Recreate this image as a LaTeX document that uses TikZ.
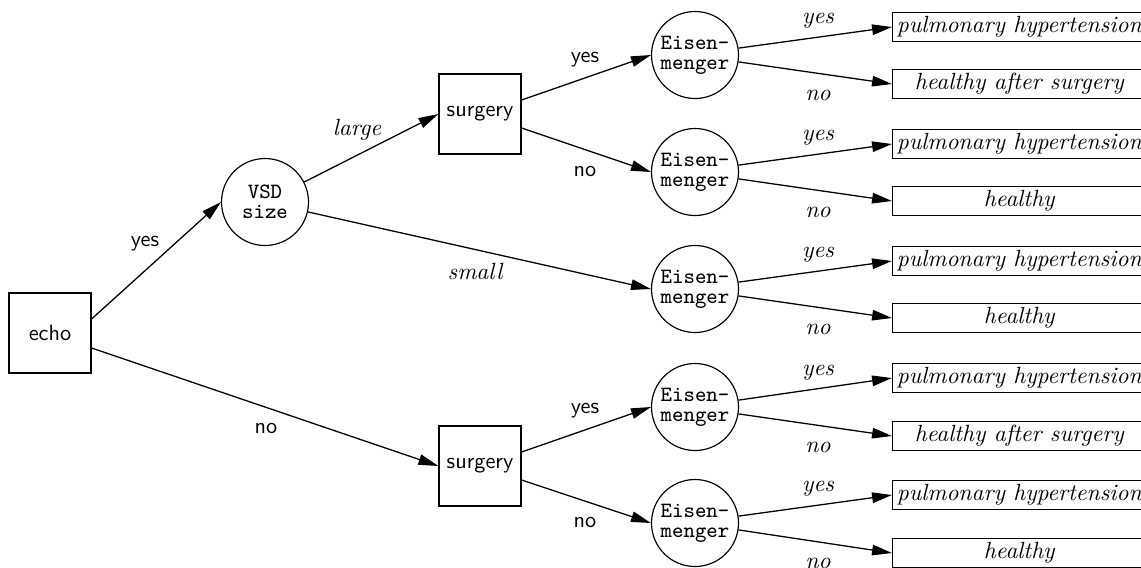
\documentclass[tikz,border=0pt]{standalone}
\usetikzlibrary{arrows.meta}
\begin{document}
\begin{tikzpicture}[x=0.015cm,y=-0.015cm,
  every node/.style={inner sep=0pt},
  decision/.style={draw, line width=0.5pt, minimum width=1.23cm, minimum height=1.2cm,
    font=\sffamily\fontsize{9.5}{11}\selectfont},
  chance/.style={draw, circle, line width=0.5pt, minimum size=1.305cm, align=center,
    font=\ttfamily\fontsize{9.3}{8.6}\selectfont},
  outcome/.style={draw, line width=0.5pt, anchor=west, minimum width=3.8cm,
    minimum height=0.435cm, font=\itshape},
  edge/.style={line width=0.55pt, -{Triangle[length=8.5pt,width=4.5pt]}},
  slab/.style={font=\sffamily\fontsize{9.5}{11}\selectfont},
  ilab/.style={font=\itshape},
]
\clip (0,0) rectangle (1141,567);

% decision and chance nodes
\node[decision] (echo) at (50,333) {echo};
\node[chance]   (vsd)  at (265,202) {VSD\\size};
\node[decision] (surgA) at (480,114) {surgery};
\node[decision] (surgB) at (480,466) {surgery};
\node[chance] (e1) at (695,55)  {Eisen-\\menger};
\node[chance] (e2) at (695,172) {Eisen-\\menger};
\node[chance] (e3) at (695,289) {Eisen-\\menger};
\node[chance] (e4) at (695,407) {Eisen-\\menger};
\node[chance] (e5) at (695,523) {Eisen-\\menger};

% outcomes
\node[outcome] (o1a) at (892,27)  {pulmonary hypertension};
\node[outcome] (o1b) at (892,84)  {healthy after surgery};
\node[outcome] (o2a) at (892,144) {pulmonary hypertension};
\node[outcome] (o2b) at (892,201) {healthy};
\node[outcome] (o3a) at (892,261) {pulmonary hypertension};
\node[outcome] (o3b) at (892,318) {healthy};
\node[outcome] (o4a) at (892,378) {pulmonary hypertension};
\node[outcome] (o4b) at (892,436) {healthy after surgery};
\node[outcome] (o5a) at (892,495) {pulmonary hypertension};
\node[outcome] (o5b) at (892,553) {healthy};

% connectors
\draw[edge] ([yshift=0.21cm]echo.east) -- (vsd.west);
\draw[edge] ([yshift=-0.225cm]echo.east) -- (surgB.west);
\draw[edge] (vsd.27) -- (surgA.west);
\draw[edge] (vsd.-13) -- (e3.west);
\draw[edge] ([yshift=0.21cm]surgA.east) -- (e1.west);
\draw[edge] ([yshift=-0.21cm]surgA.east) -- (e2.west);
\draw[edge] ([yshift=0.21cm]surgB.east) -- (e4.west);
\draw[edge] ([yshift=-0.21cm]surgB.east) -- (e5.west);
\foreach \e/\o in {e1/o1,e2/o2,e3/o3,e4/o4,e5/o5}{
  \draw[edge] (\e.9) -- (\o a.west);
  \draw[edge] (\e.-9) -- (\o b.west);
}

% edge labels
\node[slab] (lyes) at (145,244) {yes};
\node[slab] (lno)  at (266,428) {no};
\node[ilab] (llarge) at (357,130) {large};
\node[ilab] (lsmall) at (475,271) {small};
\node[slab] (la1) at (585,60)  {yes};
\node[slab] (la2) at (585,171) {no};
\node[slab] (lb1) at (585,411) {yes};
\node[slab] (lb2) at (585,522) {no};
\foreach \i/\c in {1/55,2/172,3/289,4/407,5/523}{
  \node[ilab] (ly\i) at (818,\c-34) {yes};
  \node[ilab] (ln\i) at (818,\c+40) {no};
}
\end{tikzpicture}
\end{document}
